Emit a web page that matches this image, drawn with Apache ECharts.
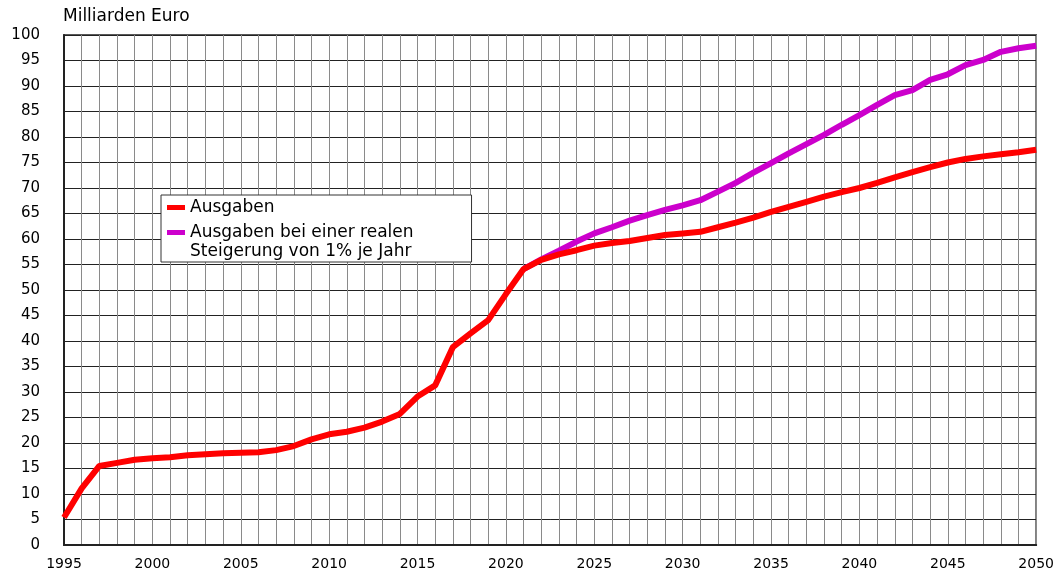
<!DOCTYPE html>
<html>
<head>
<meta charset="utf-8">
<script src="https://cdn.jsdelivr.net/npm/echarts@6/dist/echarts.min.js"></script>
<style>
html,body{margin:0;padding:0;background:#fff;}
#chart{width:1057px;height:572px;}
</style>
</head>
<body>
<div id="chart"></div>
<script>
const years = [1995,1996,1997,1998,1999,2000,2001,2002,2003,2004,2005,2006,2007,2008,2009,2010,
  2011,2012,2013,2014,2015,2016,2017,2018,2019,2020,2021,2022,2023,2024,2025,2026,2027,2028,2029,2030,
  2031,2032,2033,2034,2035,2036,2037,2038,2039,2040,2041,2042,2043,2044,2045,2046,2047,2048,2049,2050];

const ausgaben = [5.4,11.1,15.5,16.1,16.7,17.0,17.2,17.6,17.8,18.0,18.1,18.2,18.6,19.4,20.7,21.7,
  22.2,23.0,24.2,25.7,29.1,31.3,38.8,41.5,44.1,49.2,54.1,55.9,57.0,57.8,58.7,59.2,59.6,60.2,60.8,61.1,
  61.4,62.3,63.2,64.2,65.3,66.3,67.3,68.3,69.2,70.0,71.0,72.1,73.1,74.1,75.0,75.7,76.2,76.6,77.0,77.5];

const ausgabenReal = [null,null,null,null,null,null,null,null,null,null,null,null,null,null,null,null,
  null,null,null,null,null,null,null,null,null,null,54.1,56.0,57.7,59.5,61.1,62.3,63.6,64.7,65.7,66.6,
  67.6,69.3,71.0,73.0,74.9,76.8,78.6,80.4,82.4,84.3,86.3,88.2,89.2,91.2,92.3,94.1,95.1,96.7,97.4,97.9];

const seriesNames = ['Ausgaben', 'Ausgaben bei einer realen\nSteigerung von 1% je Jahr'];
const yAxisTitle = 'Milliarden Euro';

const toPairs = vals => years.map((y, i) => [y, vals[i]]);

const chart = echarts.init(document.getElementById('chart'), null, {renderer: 'canvas'});
const font = '"DejaVu Sans", "Liberation Sans", Arial, sans-serif';

chart.setOption({
  animation: false,
  backgroundColor: '#fff',
  title: {
    text: yAxisTitle,
    left: 63, top: 8, padding: 0,
    textStyle: {fontFamily: font, fontSize: 17, fontWeight: 'normal', color: '#000'}
  },
  grid: {
    left: 64, right: 20, top: 35, bottom: 27,
    show: true, borderColor: '#222', borderWidth: 1.5, backgroundColor: 'transparent'
  },
  legend: {
    orient: 'vertical',
    left: 161, top: 195,
    padding: [3, 58, 1, 6],
    itemGap: -13,
    itemWidth: 18, itemHeight: 5,
    icon: 'rect',
    backgroundColor: '#fff',
    borderColor: '#333', borderWidth: 1,
    textStyle: {fontFamily: font, fontSize: 17, color: '#000', lineHeight: 19},
    formatter: name => (name === seriesNames[1] ? '\n' + name : name),
    data: [seriesNames[0], seriesNames[1]]
  },
  xAxis: {
    type: 'value',
    min: 1995, max: 2050, interval: 1,
    axisLine: {show: true, lineStyle: {color: '#222', width: 2}},
    axisTick: {show: false},
    axisLabel: {
      fontFamily: font, fontSize: 14, color: '#000', margin: 12,
      formatter: v => (v % 5 === 0 ? String(v) : '')
    },
    splitLine: {show: true, lineStyle: {color: '#8a8a8a', width: 1}}
  },
  yAxis: {
    type: 'value',
    min: 0, max: 100, interval: 5,
    axisLine: {show: true, lineStyle: {color: '#222', width: 2}},
    axisTick: {show: false},
    axisLabel: {fontFamily: font, fontSize: 15, color: '#000', margin: 24},
    splitLine: {show: true, lineStyle: {color: '#222', width: 1}}
  },
  series: [
    {
      name: seriesNames[1],
      type: 'line',
      data: toPairs(ausgabenReal),
      symbol: 'none',
      color: '#CC00CC',
      lineStyle: {color: '#CC00CC', width: 6},
      z: 2
    },
    {
      name: seriesNames[0],
      type: 'line',
      data: toPairs(ausgaben),
      symbol: 'none',
      color: '#FF0000',
      lineStyle: {color: '#FF0000', width: 6},
      z: 3
    }
  ]
});
</script>
</body>
</html>
